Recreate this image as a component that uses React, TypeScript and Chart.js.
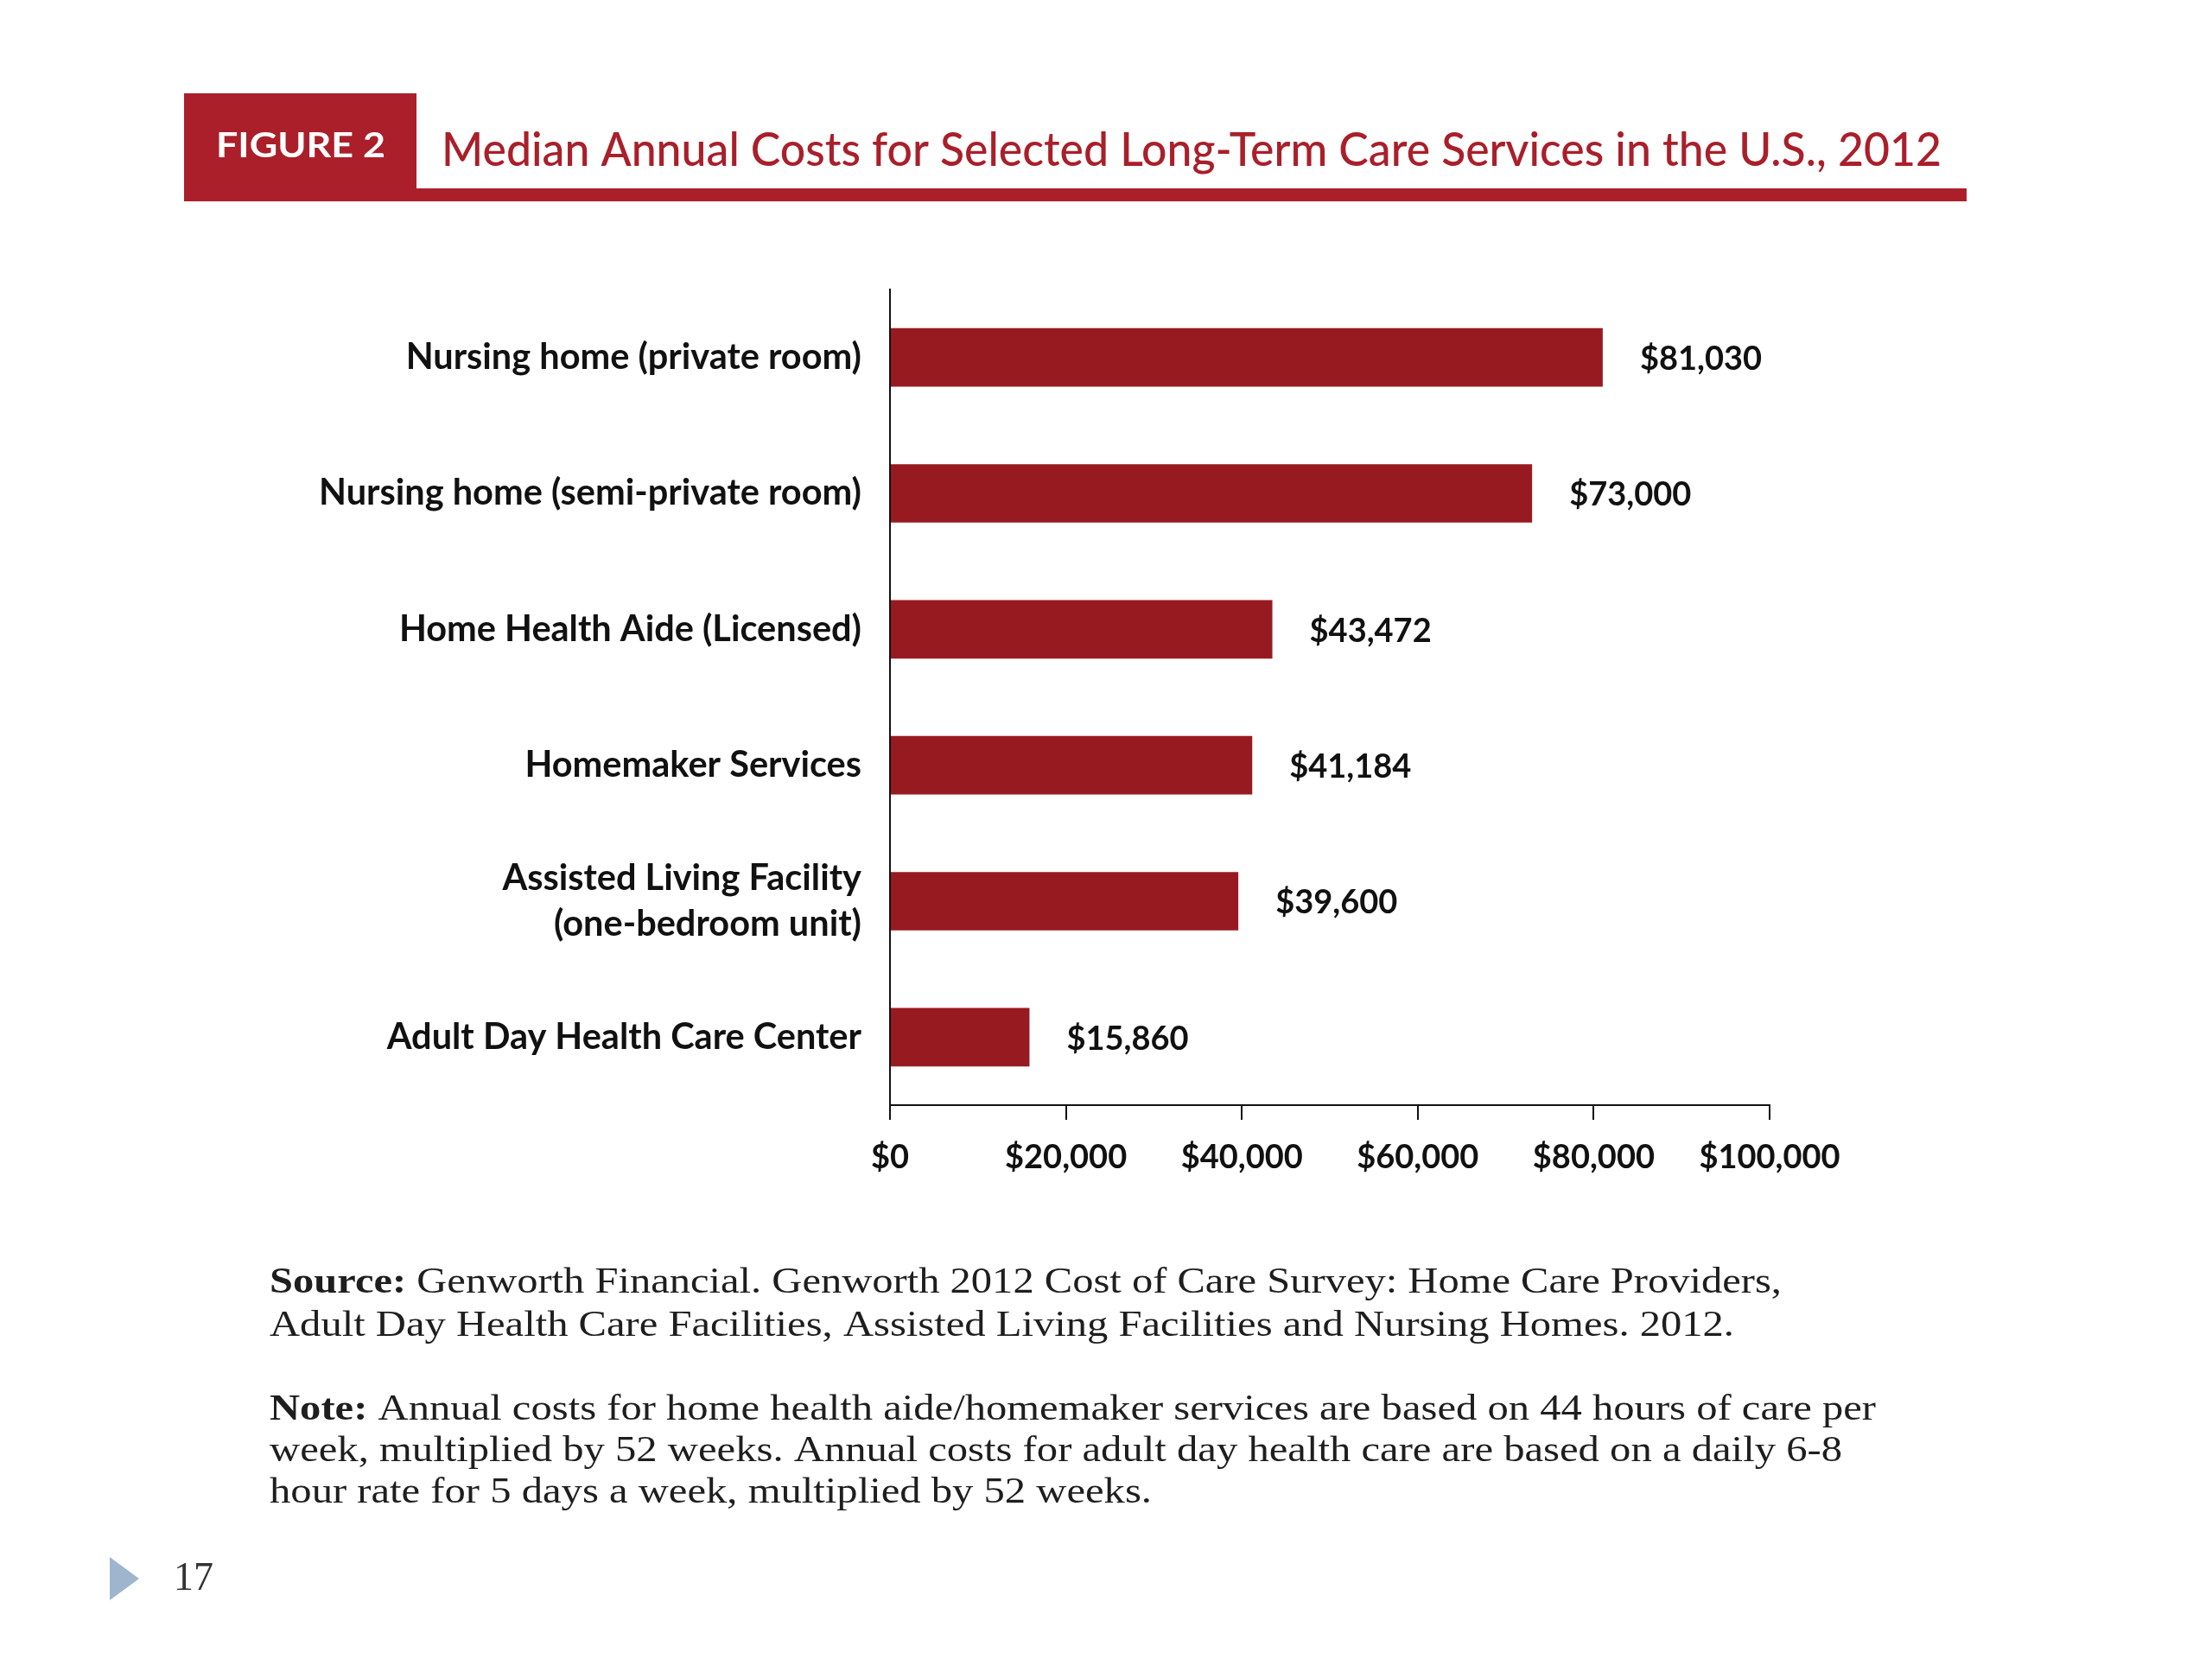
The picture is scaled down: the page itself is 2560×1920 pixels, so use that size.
import React, { useEffect, useRef } from "react";
import { Chart, registerables } from "chart.js";

Chart.register(...registerables);

// ---- data ----
const categories: (string | string[])[] = [
  "Nursing home (private room)",
  "Nursing home (semi-private room)",
  "Home Health Aide (Licensed)",
  "Homemaker Services",
  ["Assisted Living Facility", "(one-bedroom unit)"],
  "Adult Day Health Care Center",
];
const costs = [81030, 73000, 43472, 41184, 39600, 15860];
const xTickValues = [0, 20000, 40000, 60000, 80000, 100000];

const figureLabel = "FIGURE 2";
const titleText = "Median Annual Costs for Selected Long-Term Care Services in the U.S., 2012";
const noteLines: { bold: string; text: string }[] = [
  { bold: "Source:", text: " Genworth Financial. Genworth 2012 Cost of Care Survey: Home Care Providers," },
  { bold: "", text: "Adult Day Health Care Facilities, Assisted Living Facilities and Nursing Homes. 2012." },
  { bold: "Note:", text: " Annual costs for home health aide/homemaker services are based on 44 hours of care per" },
  { bold: "", text: "week, multiplied by 52 weeks. Annual costs for adult day health care are based on a daily 6-8" },
  { bold: "", text: "hour rate for 5 days a week, multiplied by 52 weeks." },
];
const pageNumber = "17";

// ---- styles / layout ----
const W = 2560;
const H = 1920;
const BAR_COLOR = "#981A21";
const HEAD_RED = "#AA1F2A";
const SANS = "Lato, 'Open Sans', sans-serif";
const SERIF = "'Liberation Serif', 'Times New Roman', serif";
const noteBaselines = [1496, 1546, 1643, 1691, 1739];
const noteWidths = [1750, 1695, 1859, 1820, 1021];

const fmt = (v: number) => "$" + v.toLocaleString("en-US");

function fillFit(
  ctx: CanvasRenderingContext2D,
  segs: { text: string; font: string }[],
  x: number,
  y: number,
  width: number
) {
  let total = 0;
  const ws: number[] = [];
  for (const s of segs) {
    ctx.font = s.font;
    const w = ctx.measureText(s.text).width;
    ws.push(w);
    total += w;
  }
  const sx = total > 0 ? width / total : 1;
  ctx.save();
  ctx.translate(x, y);
  ctx.scale(sx, 1);
  let cx = 0;
  segs.forEach((s, i) => {
    ctx.font = s.font;
    ctx.fillText(s.text, cx, 0);
    cx += ws[i];
  });
  ctx.restore();
}

const pagePlugin = {
  id: "pageDecor",
  beforeDraw(chart: any) {
    const ctx: CanvasRenderingContext2D = chart.ctx;
    ctx.save();
    ctx.fillStyle = "#ffffff";
    ctx.fillRect(0, 0, W, H);

    // header box and underline
    ctx.fillStyle = HEAD_RED;
    ctx.fillRect(213, 108, 269, 125);
    ctx.fillRect(482, 218, 1794, 15);

    ctx.textBaseline = "alphabetic";
    ctx.textAlign = "left";
    ctx.fillStyle = "#ffffff";
    fillFit(ctx, [{ text: figureLabel, font: `bold 40px ${SANS}` }], 250, 182, 196);

    ctx.fillStyle = "#A91F2A";
    fillFit(ctx, [{ text: titleText, font: `500 54px ${SANS}` }], 511, 192, 1736);

    // notes
    ctx.fillStyle = "#1e1e1e";
    noteLines.forEach((ln, i) => {
      const segs: { text: string; font: string }[] = [];
      if (ln.bold) segs.push({ text: ln.bold, font: `bold 42px ${SERIF}` });
      segs.push({ text: ln.text, font: `42px ${SERIF}` });
      fillFit(ctx, segs, 312, noteBaselines[i], noteWidths[i]);
    });

    // page marker
    ctx.fillStyle = "#9DB6CE";
    ctx.beginPath();
    ctx.moveTo(127, 1802);
    ctx.lineTo(127, 1852);
    ctx.lineTo(161, 1827);
    ctx.closePath();
    ctx.fill();
    ctx.fillStyle = "#333333";
    ctx.font = `46px ${SERIF}`;
    ctx.fillText(pageNumber, 201, 1840);
    ctx.restore();
  },
  afterDatasetsDraw(chart: any) {
    const ctx: CanvasRenderingContext2D = chart.ctx;
    const meta = chart.getDatasetMeta(0);
    ctx.save();
    ctx.font = `bold 38px ${SANS}`;
    ctx.fillStyle = "#111111";
    ctx.textAlign = "left";
    ctx.textBaseline = "middle";
    meta.data.forEach((bar: any, i: number) => {
      ctx.fillText(fmt(costs[i]), bar.x + 43, bar.y + 2);
    });
    ctx.restore();
  },
};

export default function App() {
  const ref = useRef<HTMLCanvasElement | null>(null);

  useEffect(() => {
    document.body.style.margin = "0";
    document.body.style.overflow = "hidden";
    const canvas = ref.current;
    if (!canvas) return;
    const chart = new Chart(canvas, {
      type: "bar",
      data: {
        labels: categories as any,
        datasets: [
          {
            data: costs,
            backgroundColor: BAR_COLOR,
            borderWidth: 0,
            barPercentage: 0.43,
            categoryPercentage: 1,
          },
        ],
      },
      options: {
        indexAxis: "y",
        responsive: false,
        devicePixelRatio: 1,
        animation: false,
        events: [],
        layout: { padding: { left: 0, top: 335, right: 512, bottom: 541 } },
        plugins: {
          legend: { display: false },
          tooltip: { enabled: false },
          title: { display: false },
        },
        scales: {
          x: {
            type: "linear",
            min: 0,
            max: 100000,
            afterBuildTicks: (scale: any) => {
              scale.ticks = xTickValues.map((v) => ({ value: v }));
            },
            afterFit: (scale: any) => {
              scale.height = 100;
            },
            grid: {
              drawOnChartArea: false,
              drawTicks: true,
              tickLength: 17,
              color: "#111111",
              lineWidth: 2,
            },
            border: { display: true, color: "#111111", width: 2 },
            ticks: {
              padding: 21,
              color: "#111111",
              font: { family: SANS, size: 38, weight: "bold", lineHeight: 1.2 },
              callback: (v: any) => fmt(Number(v)),
              maxRotation: 0,
              autoSkip: false,
            },
          },
          y: {
            type: "category",
            afterFit: (scale: any) => {
              scale.width = 1030;
            },
            grid: { drawOnChartArea: false, drawTicks: false, display: true, color: "rgba(0,0,0,0)" },
            border: { display: true, color: "#111111", width: 2 },
            ticks: {
              padding: 33,
              color: "#111111",
              font: { family: SANS, size: 41.5, weight: "bold", lineHeight: 1.27 },
              autoSkip: false,
            },
          },
        },
      },
      plugins: [pagePlugin],
    } as any);
    return () => chart.destroy();
  }, []);

  return (
    <canvas
      ref={ref}
      width={W}
      height={H}
      style={{ display: "block", width: W, height: H }}
    />
  );
}
